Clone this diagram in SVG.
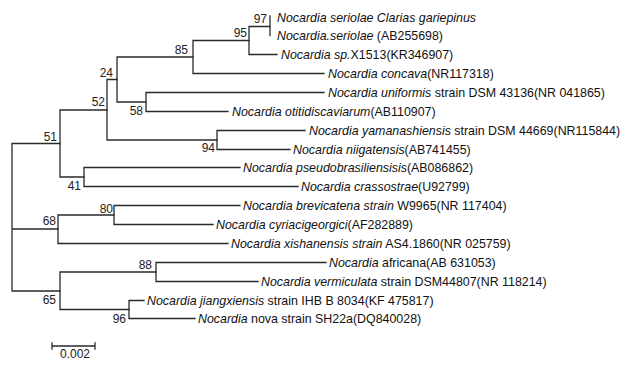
<svg xmlns="http://www.w3.org/2000/svg" width="638" height="366" viewBox="0 0 638 366">
<style>
.br{fill:none;stroke:#2a2a2a;stroke-width:1.3;stroke-linecap:square}
.lf{font-family:"Liberation Sans",Arial,sans-serif;font-size:12.4px;fill:#111}
.i{font-style:italic}
.bs{font-family:"Liberation Sans",Arial,sans-serif;font-size:12px;fill:#222;text-anchor:end}
.sc{font-family:"Liberation Sans",Arial,sans-serif;font-size:12px;fill:#222;text-anchor:middle}
</style>
<rect width="638" height="366" fill="#fff"/>
<g id="connectors">
<path class="br" d="M12,143.5V291M12,143.5H60M12,229H58M12,291H60"/>
<path class="br" d="M60,110V177M60,110H107M60,177H84"/>
<path class="br" d="M107,79.5V140M107,79.5H117M107,140H217"/>
<path class="br" d="M117,57V102M117,57H193M117,102H146"/>
<path class="br" d="M193,40.5V73.5M193,40.5H249M193,73.5H324"/>
<path class="br" d="M249,26.5V54.5M249,26.5H270M249,54.5H277"/>
<path class="br" d="M270,16V35.5"/>
<path class="br" d="M146,92.5V111.5M146,92.5H324M146,111.5H228"/>
<path class="br" d="M217,130.5V149.5M217,130.5H305M217,149.5H290"/>
<path class="br" d="M84,167.5V186.5M84,167.5H240M84,186.5H298"/>
<path class="br" d="M58,215V243.5M58,215H114M58,243.5H228"/>
<path class="br" d="M114,205.5V224.5M114,205.5H240M114,224.5H213"/>
<path class="br" d="M60,272V309.5M60,272H156M60,309.5H129"/>
<path class="br" d="M156,262.5V281.5M156,262.5H326M156,281.5H258"/>
<path class="br" d="M129,300.5V318.5M129,300.5H144M129,318.5H195"/>
</g>
<g id="n97"><text class="bs" x="267" y="23">97</text></g>
<g id="n95"><text class="bs" x="247" y="37">95</text></g>
<g id="n85"><text class="bs" x="188" y="54">85</text></g>
<g id="n24"><text class="bs" x="113" y="77">24</text></g>
<g id="n52"><text class="bs" x="105" y="106">52</text></g>
<g id="n58"><text class="bs" x="143" y="115">58</text></g>
<g id="n51"><text class="bs" x="57" y="141">51</text></g>
<g id="n94"><text class="bs" x="215" y="152">94</text></g>
<g id="n41"><text class="bs" x="81" y="190">41</text></g>
<g id="n80"><text class="bs" x="113" y="213">80</text></g>
<g id="n68"><text class="bs" x="56" y="225">68</text></g>
<g id="n88"><text class="bs" x="152" y="269">88</text></g>
<g id="n65"><text class="bs" x="56" y="304">65</text></g>
<g id="n96"><text class="bs" x="126" y="323">96</text></g>
<g id="leaf1"><text class="lf" x="277" y="22"><tspan class="i">Nocardia seriolae Clarias gariepinus</tspan></text></g>
<g id="leaf2"><text class="lf" x="277" y="40"><tspan class="i">Nocardia.seriolae</tspan> (AB255698)</text></g>
<g id="leaf3"><text class="lf" x="281" y="59"><tspan class="i">Nocardia sp.</tspan>X1513(KR346907)</text></g>
<g id="leaf4"><text class="lf" x="328" y="78"><tspan class="i">Nocardia concava</tspan>(NR117318)</text></g>
<g id="leaf5"><text class="lf" x="328" y="97"><tspan class="i">Nocardia uniformis</tspan> strain DSM 43136(NR 041865)</text></g>
<g id="leaf6"><text class="lf" x="232" y="116"><tspan class="i">Nocardia otitidiscaviarum</tspan>(AB110907)</text></g>
<g id="leaf7"><text class="lf" x="309" y="135"><tspan class="i">Nocardia yamanashiensis</tspan> strain DSM 44669(NR115844)</text></g>
<g id="leaf8"><text class="lf" x="293" y="154"><tspan class="i">Nocardia niigatensis</tspan>(AB741455)</text></g>
<g id="leaf9"><text class="lf" x="243" y="172"><tspan class="i">Nocardia pseudobrasiliensisis</tspan>(AB086862)</text></g>
<g id="leaf10"><text class="lf" x="301" y="191"><tspan class="i">Nocardia crassostrae</tspan>(U92799)</text></g>
<g id="leaf11"><text class="lf" x="243" y="210"><tspan class="i">Nocardia brevicatena strain</tspan> W9965(NR 117404)</text></g>
<g id="leaf12"><text class="lf" x="216" y="229"><tspan class="i">Nocardia cyriacigeorgici</tspan>(AF282889)</text></g>
<g id="leaf13"><text class="lf" x="231" y="248"><tspan class="i">Nocardia xishanensis strain</tspan> AS4.1860(NR 025759)</text></g>
<g id="leaf14"><text class="lf" x="329" y="267"><tspan class="i">Nocardia</tspan> africana(AB 631053)</text></g>
<g id="leaf15"><text class="lf" x="261" y="286"><tspan class="i">Nocardia vermiculata</tspan> strain DSM44807(NR 118214)</text></g>
<g id="leaf16"><text class="lf" x="147" y="305"><tspan class="i">Nocardia jiangxiensis</tspan> strain IHB B 8034(KF 475817)</text></g>
<g id="leaf17"><text class="lf" x="198" y="323"><tspan class="i">Nocardia</tspan> nova strain SH22a(DQ840028)</text></g>
<g id="scalebar">
<path class="br" d="M52,346H95M52,343V349M95,343V349"/>
<text class="sc" x="75" y="358">0.002</text>
</g>
</svg>
